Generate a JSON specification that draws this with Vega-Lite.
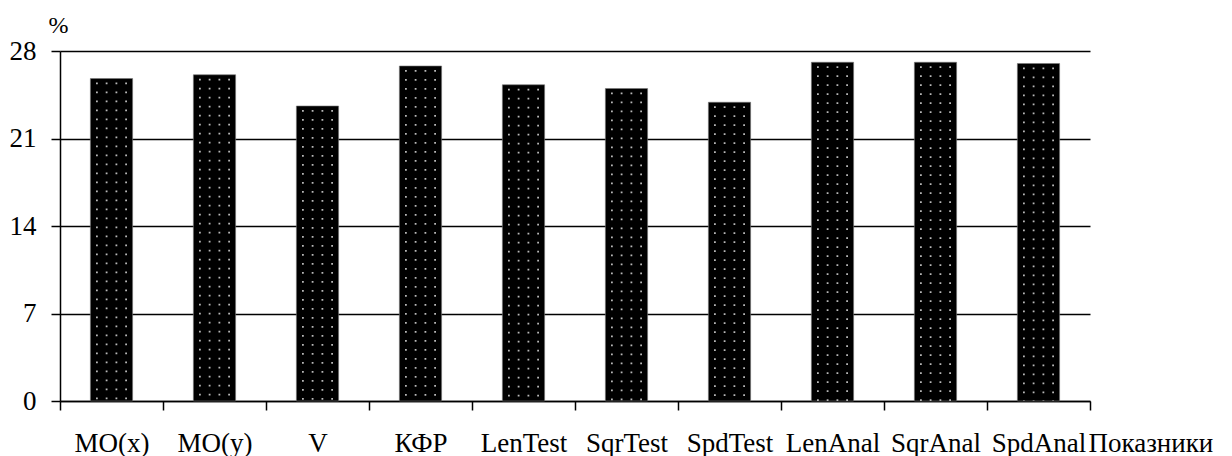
{
  "$schema": "https://vega.github.io/schema/vega-lite/v6.json",
  "autosize": "none",
  "width": 1030,
  "height": 350,
  "padding": {"left": 60, "top": 51, "right": 142, "bottom": 55},
  "background": "white",
  "config": {
    "view": {"stroke": null},
    "font": "Liberation Serif, Times New Roman, serif",
    "axis": {"labelFont": "Liberation Serif, Times New Roman, serif", "titleFont": "Liberation Serif, Times New Roman, serif", "labelColor": "black", "titleColor": "black", "domainColor": "black", "tickColor": "black", "gridColor": "black"}
  },
  "data": {
    "values": [
      {"category": "MO(x)", "value": 25.8},
      {"category": "MO(y)", "value": 26.1},
      {"category": "V", "value": 23.6},
      {"category": "КФР", "value": 26.8},
      {"category": "LenTest", "value": 25.3},
      {"category": "SqrTest", "value": 25.0},
      {"category": "SpdTest", "value": 23.9},
      {"category": "LenAnal", "value": 27.1},
      {"category": "SqrAnal", "value": 27.1},
      {"category": "SpdAnal", "value": 27.0}
    ]
  },
  "encoding": {
    "x": {
      "field": "category",
      "type": "nominal",
      "sort": null,
      "scale": {"paddingInner": 0, "paddingOuter": 0},
      "axis": {
        "title": "Показники",
        "titleFontSize": 27,
        "titleFontWeight": "normal",
        "titleAlign": "left",
        "titleAnchor": null,
        "titleX": 1028,
        "titleY": 50,
        "titleBaseline": "alphabetic",
        "labelAngle": 0,
        "labelFontSize": 27,
        "labelBaseline": "alphabetic",
        "labelPadding": 41,
        "tickSize": 9,
        "tickBand": "extent",
        "domainWidth": 1.5,
        "tickWidth": 1.5,
        "labelOverlap": false
      }
    },
    "y": {
      "field": "value",
      "type": "quantitative",
      "scale": {"domain": [0, 28], "nice": false},
      "axis": {
        "title": "%",
        "titleAngle": 0,
        "titleFontSize": 24,
        "titleFontWeight": "normal",
        "titleAlign": "center",
        "titleAnchor": null,
        "titleX": -2,
        "titleY": -19,
        "titleBaseline": "alphabetic",
        "values": [0, 7, 14, 21, 28],
        "labelFontSize": 27,
        "labelPadding": 15,
        "tickSize": 9,
        "grid": true,
        "gridWidth": 1.5,
        "domainWidth": 1.5,
        "tickWidth": 1.5
      }
    }
  },
  "layer": [
    {"mark": {"type": "bar", "fill": "#000000", "stroke": "#777", "strokeWidth": 0.6, "width": {"band": 0.41}}},
    {"mark": {"type": "rule", "xOffset": -14.6, "color": "#b8b8b8", "strokeWidth": 1.8, "strokeDash": [1.8, 7.2], "strokeDashOffset": 5}, "encoding": {"y2": {"datum": 0}}},
    {"mark": {"type": "rule", "xOffset": -4.9, "color": "#b8b8b8", "strokeWidth": 1.8, "strokeDash": [1.8, 7.2], "strokeDashOffset": 5}, "encoding": {"y2": {"datum": 0}}},
    {"mark": {"type": "rule", "xOffset": 4.9, "color": "#b8b8b8", "strokeWidth": 1.8, "strokeDash": [1.8, 7.2], "strokeDashOffset": 5}, "encoding": {"y2": {"datum": 0}}},
    {"mark": {"type": "rule", "xOffset": 14.6, "color": "#b8b8b8", "strokeWidth": 1.8, "strokeDash": [1.8, 7.2], "strokeDashOffset": 5}, "encoding": {"y2": {"datum": 0}}}
  ]
}
